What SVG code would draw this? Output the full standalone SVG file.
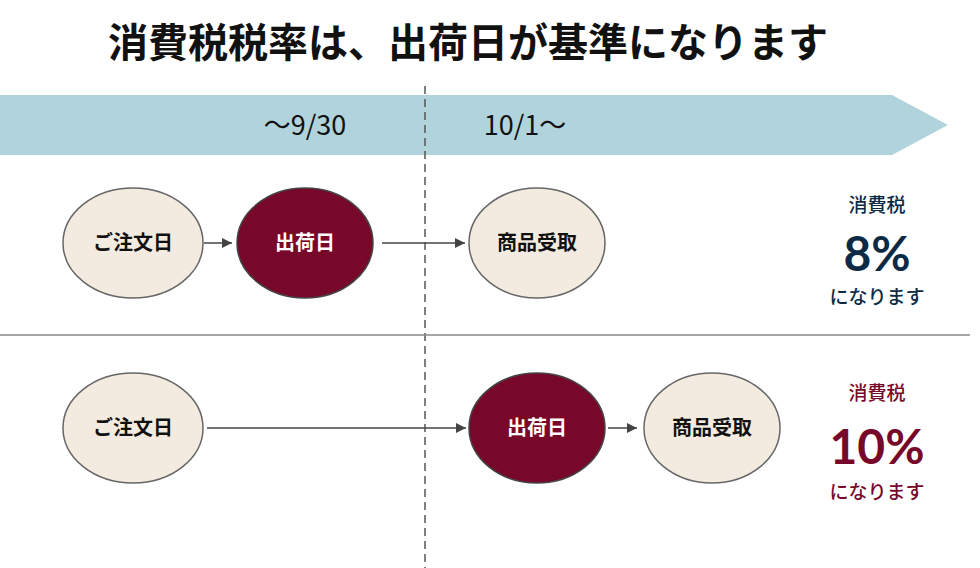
<svg xmlns="http://www.w3.org/2000/svg" width="980" height="568" viewBox="0 0 980 568">
<style>
text{font-family:"Noto Sans CJK JP","Liberation Sans",sans-serif;text-anchor:middle}
.l{fill:#f3ebdf;stroke:#666;stroke-width:1.5}
.d{fill:#78082a;stroke:#444;stroke-width:1.5}
.t{font-size:20px;font-weight:bold;fill:#111}
.w{font-size:20px;font-weight:bold;fill:#fff}
.c{stroke:#444;stroke-width:1.5;fill:none;marker-end:url(#a)}
.s{font-size:19px;font-weight:500}
.p{font-size:48px;font-weight:bold;font-family:Lato,sans-serif}
</style>
<defs><marker id="a" viewBox="0 0 10 10" refX="10" refY="5" markerWidth="7" markerHeight="7" orient="auto"><path d="M0,0L10,5L0,10z" fill="#444"/></marker></defs>
<rect width="980" height="568" fill="#fff"/>
<text x="468" y="57" font-size="40" font-weight="bold" fill="#111">消費税税率は、出荷日が基準になります</text>
<polygon points="0,95 892,95 948,125 892,155 0,155" fill="#b1d3dc"/>
<text x="305" y="135" font-size="27" fill="#111" font-family="Liberation Sans">～9/30</text>
<text x="525" y="135" font-size="27" fill="#111" font-family="Liberation Sans">10/1～</text>
<line x1="425" y1="86" x2="425" y2="568" stroke="#555" stroke-width="1.5" stroke-dasharray="8,5"/>
<line x1="0" y1="335" x2="970" y2="335" stroke="#888" stroke-width="1.5"/>
<g id="connectors">
<line class="c" x1="204" y1="243" x2="232" y2="243"/>
<line class="c" x1="382" y1="243" x2="465" y2="243"/>
<line class="c" x1="207" y1="428" x2="466" y2="428"/>
<line class="c" x1="608" y1="428" x2="637" y2="428"/>
</g>
<g id="n1"><ellipse class="l" cx="133" cy="243" rx="70" ry="55"/><text class="t" x="133" y="250">ご注文日</text></g>
<g id="n2"><ellipse class="d" cx="305" cy="243" rx="68" ry="55"/><text class="w" x="305" y="250">出荷日</text></g>
<g id="n3"><ellipse class="l" cx="537" cy="243" rx="68" ry="55"/><text class="t" x="537" y="250">商品受取</text></g>
<g id="n4"><ellipse class="l" cx="133" cy="428" rx="70" ry="55"/><text class="t" x="133" y="435">ご注文日</text></g>
<g id="n5"><ellipse class="d" cx="537" cy="428" rx="68" ry="55"/><text class="w" x="537" y="435">出荷日</text></g>
<g id="n6"><ellipse class="l" cx="712" cy="428" rx="68" ry="55"/><text class="t" x="712" y="435">商品受取</text></g>
<g fill="#0d2a45">
<text class="s" x="877" y="212">消費税</text>
<text class="p" x="877" y="271">8%</text>
<text class="s" x="877" y="304">になります</text>
</g>
<g fill="#78082a">
<text class="s" x="877" y="400">消費税</text>
<text class="p" x="877" y="464">10%</text>
<text class="s" x="877" y="499">になります</text>
</g>
</svg>
